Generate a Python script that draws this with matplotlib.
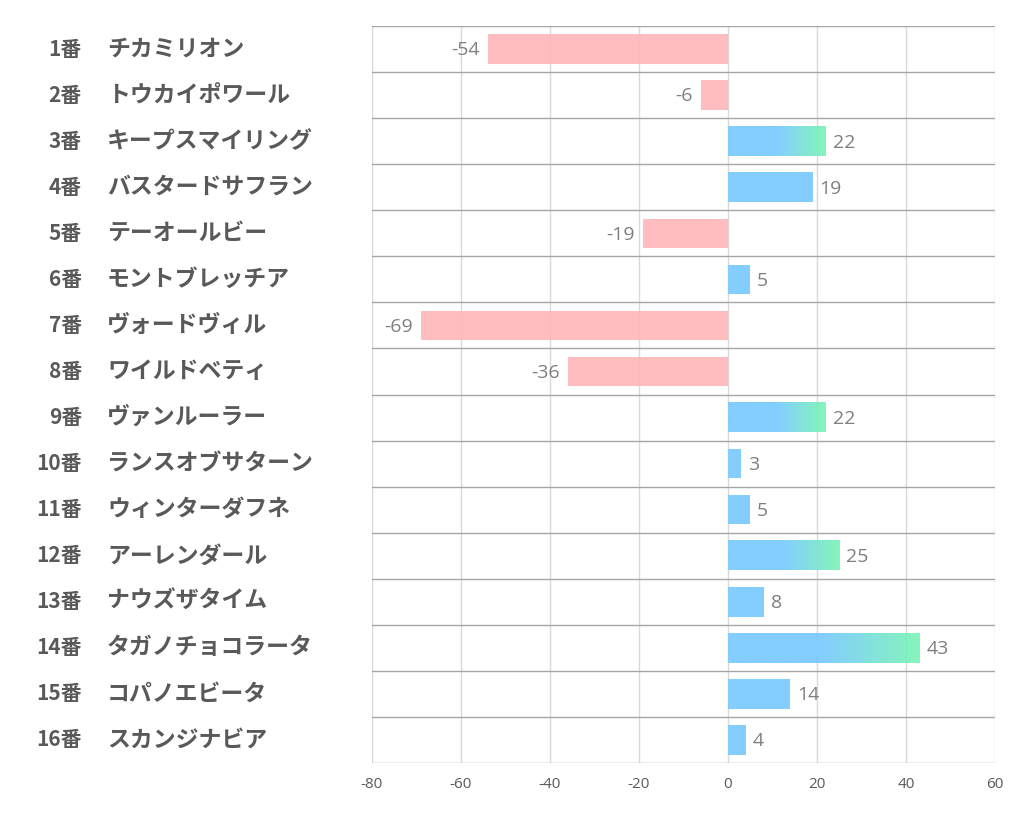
import matplotlib
matplotlib.use("Agg")
import matplotlib.pyplot as plt
import numpy as np
from matplotlib.colors import LinearSegmentedColormap
from matplotlib.transforms import blended_transform_factory

numbers = ["1番", "2番", "3番", "4番", "5番", "6番", "7番", "8番",
           "9番", "10番", "11番", "12番", "13番", "14番", "15番", "16番"]
names = ["チカミリオン", "トウカイポワール", "キープスマイリング", "バスタードサフラン",
         "テーオールビー", "モントブレッチア", "ヴォードヴィル", "ワイルドベティ",
         "ヴァンルーラー", "ランスオブサターン", "ウィンターダフネ", "アーレンダール",
         "ナウズザタイム", "タガノチョコラータ", "コパノエビータ", "スカンジナビア"]
values = [-54, -6, 22, 19, -19, 5, -69, -36, 22, 3, 5, 25, 8, 43, 14, 4]
xticks = [-80, -60, -40, -20, 0, 20, 40, 60]

BLUE = "#7ACBFF"
GREEN = "#7CF5B4"
PINK = "#FFB8BB"
cmap = LinearSegmentedColormap.from_list("bg", [BLUE, GREEN])

plt.rcParams['font.family'] = ['Noto Sans CJK JP', 'DejaVu Sans']

fig = plt.figure(figsize=(10.22, 8.34), dpi=100)
ax = fig.add_axes([372/1022, 1-763/834, (995-372)/1022, (763-26)/834])

n = len(values)
ys = np.arange(n)

# gridlines
for xt in xticks:
    ax.axvline(xt, color="#D9D9D9", lw=1.0, zorder=0)
for b in np.arange(-0.5, n, 1.0):
    ax.axhline(b, color="#A6A6A6", lw=1.0, zorder=1)

bh = 0.64
lab_font = ["Open Sans", "DejaVu Sans"]
for y, v in zip(ys, values):
    if v < 0:
        ax.barh(y, v, height=bh, color=PINK, alpha=0.93, zorder=2)
        ax.annotate(f"{v}", xy=(v, y), xytext=(-6, -1), textcoords="offset points",
                    ha="right", va="center", fontsize=14, color="#7F7F7F",
                    family=lab_font)
    else:
        if v > 20:
            t = np.clip((np.linspace(0, 1, 400) - 0.5) / 0.5, 0, 1).reshape(1, -1)
            ax.imshow(t, cmap=cmap, vmin=0, vmax=1, aspect="auto", alpha=0.93,
                      extent=(0, v, y + bh / 2, y - bh / 2), zorder=2,
                      interpolation="bilinear")
        else:
            ax.barh(y, v, height=bh, color=BLUE, alpha=0.93, zorder=2)
        ax.annotate(f"{v}", xy=(v, y), xytext=(5, -1), textcoords="offset points",
                    ha="left", va="center", fontsize=14, color="#7F7F7F",
                    family=lab_font)

ax.set_xlim(xticks[0], xticks[-1])
ax.set_ylim(n - 0.5, -0.5)
ax.set_xticks(xticks)
ax.set_xticklabels([str(t) for t in xticks], fontsize=11, color="#595959",
                   family=lab_font)
ax.tick_params(axis="x", length=0, pad=10)
ax.set_yticks([])
for s in ax.spines.values():
    s.set_visible(False)

# row labels
tr = blended_transform_factory(fig.transFigure, ax.transData)
for y, num, name in zip(ys, numbers, names):
    ax.text(82/1022, y, num, transform=tr,
            ha="right", va="center", fontsize=15, fontweight="bold", color="#595959")
    ax.text(107/1022, y, name, transform=tr,
            ha="left", va="center", fontsize=16.5, fontweight="bold", color="#595959")

fig.savefig("out.png", dpi=100)
